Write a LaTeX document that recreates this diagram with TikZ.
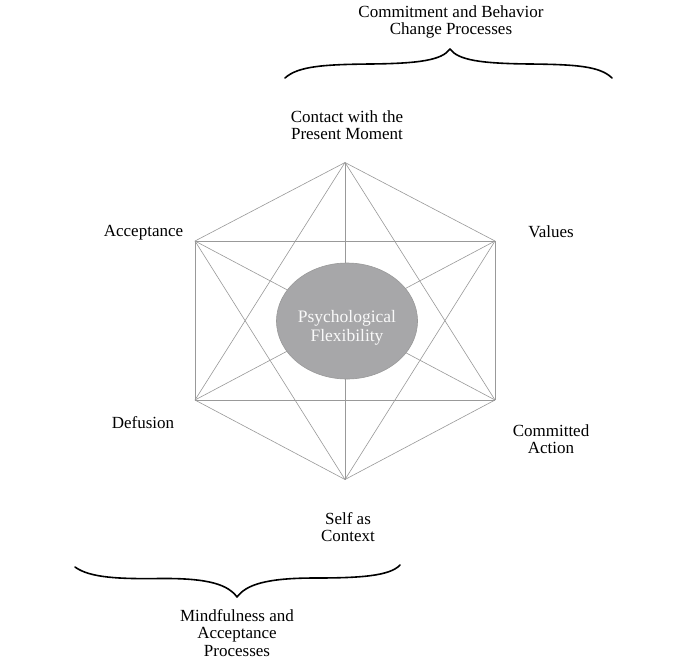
\documentclass[tikz,border=0pt]{standalone}
\usepackage{fontspec}
\setmainfont{Liberation Serif}
\usetikzlibrary{shapes.geometric}
\definecolor{edgegray}{HTML}{999999}
\definecolor{corefill}{HTML}{A7A7A9}
\begin{document}
\begin{tikzpicture}[x=1pt,y=-1pt,
  lbl/.style={align=center,inner sep=0pt,font=\fontsize{17}{17.5}\selectfont},
  edge/.style={draw=edgegray,line width=0.6pt},
  brace/.style={draw=black,line width=1.6pt,line cap=round,line join=round}]
\useasboundingbox[fill=white] (0,0) rectangle (700,662);
\coordinate (T) at (345,162.5);
\coordinate (UL) at (195,241);
\coordinate (UR) at (495,241);
\coordinate (LL) at (195,400);
\coordinate (LR) at (495,400);
\coordinate (B) at (345,479.5);
\foreach \a/\b in {T/UL,T/UR,T/LL,T/LR,T/B,UL/UR,UL/LL,UL/LR,UL/B,UR/LL,UR/LR,UR/B,LL/LR,LL/B,LR/B}
  \draw[edge] (\a) -- (\b);
\node[ellipse,fill=corefill,draw=edgegray,line width=0.6pt,minimum width=141pt,minimum height=116pt,inner sep=0pt] (core) at (347,321) {};
\node[align=center,inner sep=0pt,text=white!95!gray,font=\fontsize{17.5}{19}\selectfont] (coretext) at (347,328) {Psychological\\Flexibility};
\node[lbl] (contact) at (347,125) {Contact with the\\Present Moment};
\node[lbl] (accept) at (143.5,233) {Acceptance};
\node[lbl] (values) at (551,232) {Values};
\node[lbl] (defusion) at (143,423) {Defusion};
\node[lbl] (committed) at (551,439) {Committed\\Action};
\node[lbl] (self) at (348,527) {Self as\\Context};
\node[lbl] (cbc) at (451,22) {Commitment and Behavior\\Change Processes};
\node[lbl] (map) at (237,633) {Mindfulness and\\Acceptance\\Processes};
\draw[brace] (285,78) .. controls (298,66) and (325,64.5) .. (370,64) .. controls (420,63.5) and (442,60) .. (450,49)
  .. controls (458,60) and (480,63.5) .. (530,64) .. controls (575,64.5) and (600,66) .. (612,78);
\draw[brace] (75,567) .. controls (90,578) and (120,579) .. (160,578.5) .. controls (210,578) and (228,585) .. (237,597)
  .. controls (246,585) and (265,578) .. (315,578) .. controls (360,578) and (390,576) .. (400,565);
\end{tikzpicture}
\end{document}
